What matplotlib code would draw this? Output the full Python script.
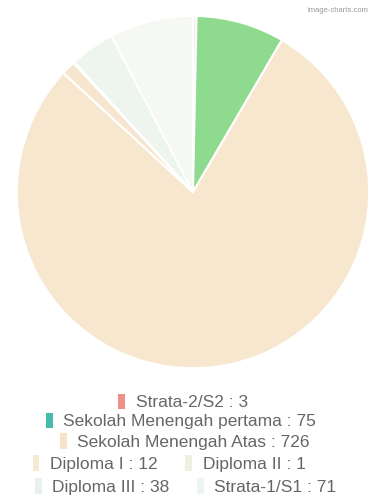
import matplotlib.pyplot as plt
from matplotlib.patches import Patch

# data
labels = ['Strata-2/S2', 'Sekolah Menengah pertama', 'Sekolah Menengah Atas',
          'Diploma I', 'Diploma II', 'Diploma III', 'Strata-1/S1']
values = [3, 75, 726, 12, 1, 38, 71]
pie_colors = ['#f8eceb', '#8edb8f', '#f8e7cf', '#f6e6cf', '#f1f3e6', '#edf5ee', '#f6f8f4']
legend_colors = ['#f08f8a', '#45bcae', '#f7e3c8', '#f7ead2', '#eef1e2', '#e9f1ec', '#eef3f3']

plt.rcParams['font.family'] = ['Liberation Sans', 'DejaVu Sans']

fig = plt.figure(figsize=(3.74, 4.97), dpi=100)
ax = fig.add_axes([0.040, 0.2555, 0.952, 0.716])
ax.pie(values, colors=pie_colors, startangle=90, counterclock=False,
       wedgeprops=dict(edgecolor='white', linewidth=1.5))
ax.set_xlim(-1.01, 1.01)
ax.set_ylim(-1.01, 1.01)
ax.set_aspect('equal')

fig.text(0.985, 0.985, 'image-charts.com', ha='right', va='top', fontsize=5.5, color='#999999')

# legend rows: indices of items and row centre
rows = [([0], 0.489, 0.191), ([1], 0.484, 0.153), ([2], 0.494, 0.111),
        ([3, 4], 0.452, 0.067), ([5, 6], 0.496, 0.021)]
for idx, xc, yc in rows:
    handles = [Patch(facecolor=legend_colors[i], edgecolor='none') for i in idx]
    texts = ['%s : %d' % (labels[i], values[i]) for i in idx]
    fig.legend(handles, texts, loc='center', bbox_to_anchor=(xc, yc), ncol=len(idx),
               frameon=False, fontsize=12.5, handlelength=0.4, handleheight=1.0,
               handletextpad=0.6, columnspacing=1.6, borderpad=0, borderaxespad=0,
               labelcolor='#666666')

fig.savefig('out.png', dpi=100, facecolor='white')
